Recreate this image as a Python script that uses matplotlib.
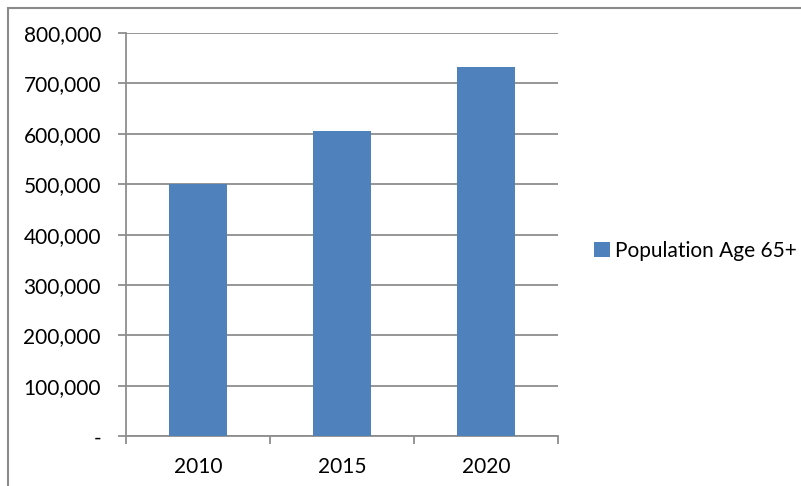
import matplotlib.pyplot as plt
from matplotlib.patches import Rectangle
from matplotlib.ticker import FuncFormatter

years = ['2010', '2015', '2020']
population_65 = [501000, 606000, 733000]
series_name = 'Population Age 65+'

plt.rcParams['font.family'] = ['Lato', 'DejaVu Sans']

W, H = 801, 486
fig = plt.figure(figsize=(W / 100, H / 100), dpi=100)

# plot area in pixel terms
left, right, top, bottom = 126, 558, 33, 436.3
ax = fig.add_axes([left / W, 1 - bottom / H, (right - left) / W, (bottom - top) / H])

grid_col = '#8e8e8e'
fs = 15
x = list(range(len(years)))
ax.bar(x, population_65, width=0.4, color='#4F81BD', label=series_name, zorder=3)

ax.set_xlim(-0.5, len(years) - 0.5)
ax.set_ylim(0, 800000)
ax.set_yticks(range(0, 800001, 100000))
ax.yaxis.set_major_formatter(FuncFormatter(lambda v, p: '-' if v == 0 else f'{int(v):,}'))
ax.grid(axis='y', color=grid_col, linewidth=1.3, zorder=0)

# category labels sit between the boundary tick marks
ax.set_xticks([i - 0.5 for i in range(len(years) + 1)])
ax.set_xticklabels([])
ax.set_xticks(x, minor=True)
ax.set_xticklabels(years, minor=True, fontsize=fs)
ax.tick_params(axis='x', which='minor', length=0, pad=15)
ax.tick_params(axis='x', which='major', length=6, color=grid_col, width=1.3)
ax.tick_params(axis='y', length=6, color=grid_col, width=1.3, labelsize=fs, pad=12)

for s in ['top', 'right']:
    ax.spines[s].set_visible(False)
for s in ['left', 'bottom']:
    ax.spines[s].set_color(grid_col)
    ax.spines[s].set_linewidth(1.3)

fig.legend(loc='center left', bbox_to_anchor=(594 / W, 1 - 251 / H), frameon=False,
           borderpad=0, borderaxespad=0, fontsize=fs,
           handlelength=0.75, handleheight=0.75, handletextpad=0.25)

# chart area border
fig.patches.append(Rectangle((8 / W, -0.1), 1.2, 1 - 8 / H + 0.1, transform=fig.transFigure,
                             fill=False, edgecolor='#8a8a8a', linewidth=1.5))

fig.savefig('out.png', dpi=100)
